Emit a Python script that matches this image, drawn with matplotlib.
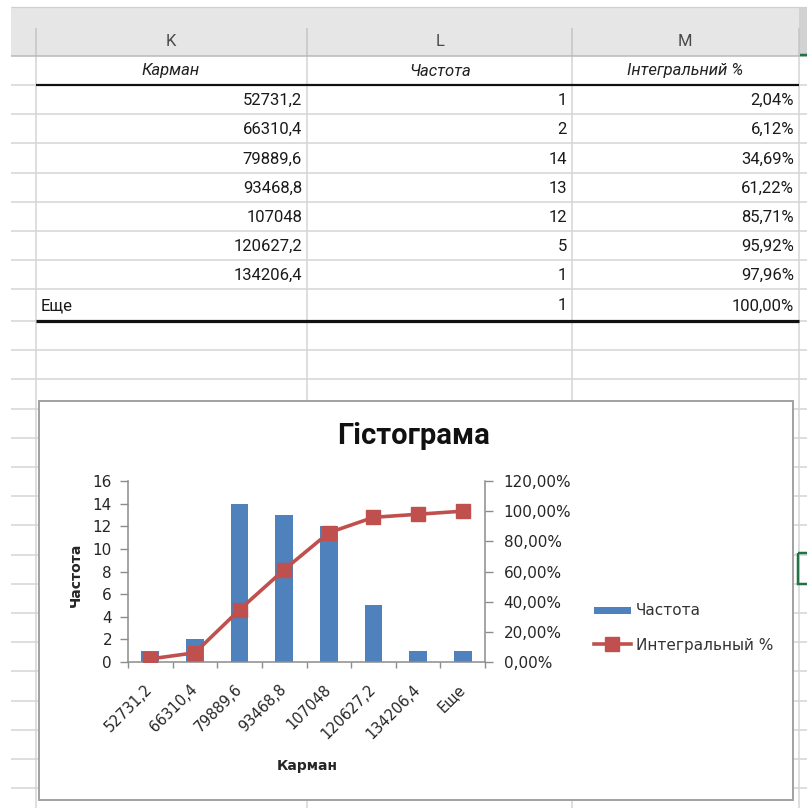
import numpy as np
import matplotlib
matplotlib.use("Agg")
import matplotlib.pyplot as plt
from matplotlib.patches import Rectangle
from matplotlib.lines import Line2D
from matplotlib.legend_handler import HandlerPatch

# ---------------- data ----------------
col_letters = ["K", "L", "M"]
col_headers = ["Карман", "Частота", "Інтегральний %"]
bins = ["52731,2", "66310,4", "79889,6", "93468,8", "107048", "120627,2", "134206,4", "Еще"]
freq = [1, 2, 14, 13, 12, 5, 1, 1]
cum_pct = [2.04, 6.12, 34.69, 61.22, 85.71, 95.92, 97.96, 100.00]
chart_title = "Гістограма"
y_label = "Частота"
x_label = "Карман"
series_names = ["Частота", "Интегральный %"]
left_ticks = [0, 2, 4, 6, 8, 10, 12, 14, 16]
right_ticks = [0, 20, 40, 60, 80, 100, 120]


def pct(v):
    return f"{v:.2f}%".replace(".", ",")


W, H = 807, 808
fig = plt.figure(figsize=(W / 100, H / 100), dpi=100)
fig.patch.set_facecolor("white")

TABLE_FONT = ["Roboto", "DejaVu Sans"]
CHART_FONT = ["DejaVu Sans"]

# ---------------- spreadsheet background (pixel coordinates) ----------------
bg = fig.add_axes([0, 0, 1, 1], zorder=0)
bg.set_xlim(0, W)
bg.set_ylim(H, 0)
bg.axis("off")

PX = 0.72  # 1 px in points
grid_c = "#d6d6d6"
col_x = [36, 307, 572, 799]

# header band
bg.add_patch(Rectangle((11, 7), 788, 49, facecolor="#e6e6e6", edgecolor="none", zorder=1))
bg.add_patch(Rectangle((799, 7), 10, 49, facecolor="#d2d2d2", edgecolor="none", zorder=1))
bg.hlines(6.5, 11, W, colors="#cfcfcf", lw=1.2 * PX, zorder=2)
bg.hlines(56, 11, W, colors="#b8b8b8", lw=1.5 * PX, zorder=3)
bg.hlines(55, 800, W, colors="#217346", lw=2.5 * PX, zorder=4)
bg.vlines(col_x, 28, 56, colors="#c4c4c4", lw=1.5 * PX, zorder=2)

# row grid lines
row_lines = [85, 114.2, 143.4, 172.6, 201.8, 231, 260.2, 289.4, 320.5]
row_lines += [350.2 + 29.2 * k for k in range(16)]
bg.hlines(row_lines, 11, W, colors=grid_c, lw=1.6 * PX, zorder=1)
bg.vlines(col_x, 56, H, colors=grid_c, lw=1.6 * PX, zorder=1)

# thick table borders
bg.hlines(85, 36, 799, colors="#111111", lw=2.2 * PX, zorder=3)
bg.hlines(320.5, 36, 799, colors="#111111", lw=3.2 * PX, zorder=3)

# column letters
for cx, letter in zip([171, 440, 685], col_letters):
    bg.text(cx, 41, letter, ha="center", va="center", fontsize=12,
            color="#4a4a4a", family=TABLE_FONT, zorder=5)

# header labels (italic)
for cx, lab in zip([171, 440, 685], col_headers):
    bg.text(cx, 71, lab, ha="center", va="center", fontsize=12, style="italic",
            color="#222222", family=TABLE_FONT, zorder=5)

# table rows
row_centers = [(row_lines[i] + row_lines[i + 1]) / 2 for i in range(8)]
for i, yc in enumerate(row_centers):
    if bins[i] == "Еще":
        bg.text(41, yc + 1, bins[i], ha="left", va="center", fontsize=12,
                color="#1a1a1a", family=TABLE_FONT, zorder=5)
    else:
        bg.text(302, yc + 1, bins[i], ha="right", va="center", fontsize=12,
                color="#1a1a1a", family=TABLE_FONT, zorder=5)
    bg.text(567, yc + 1, str(freq[i]), ha="right", va="center", fontsize=12,
            color="#1a1a1a", family=TABLE_FONT, zorder=5)
    bg.text(794, yc + 1, pct(cum_pct[i]), ha="right", va="center", fontsize=12,
            color="#1a1a1a", family=TABLE_FONT, zorder=5)

# selected cell (green)
bg.add_patch(Rectangle((798, 553), 20, 31, facecolor="none", edgecolor="#217346",
                       lw=2.5 * PX, zorder=4))

# chart box
bg.add_patch(Rectangle((38.5, 400.5), 754.5, 399, facecolor="white",
                       edgecolor="#a3a3a3", lw=2 * PX, zorder=6))

# chart texts
bg.text(414, 436, chart_title, ha="center", va="center", fontsize=21,
        fontweight="bold", family=["Roboto", "DejaVu Sans"], color="#111111", zorder=7)
bg.text(76, 575, y_label, ha="center", va="center", rotation=90, fontsize=10,
        fontweight="bold", family=CHART_FONT, color="#262626", zorder=7)
bg.text(307, 766, x_label, ha="center", va="center", fontsize=10,
        fontweight="bold", family=CHART_FONT, color="#262626", zorder=7)

# ---------------- chart axes ----------------
L, R, T, B = 128, 485, 481, 662
ax = fig.add_axes([L / W, 1 - B / H, (R - L) / W, (B - T) / H], zorder=2)
ax.patch.set_alpha(0)
x = np.arange(len(bins))
bar_color = "#4f81bd"
line_color = "#c0504d"
axis_c = "#8c8c8c"

bars = ax.bar(x, freq, width=0.4, color=bar_color, zorder=2)
ax.set_xlim(-0.5, len(bins) - 0.5)
ax.set_ylim(0, 16)
ax.set_yticks(left_ticks)
ax.set_yticklabels([str(v) for v in left_ticks], family=CHART_FONT, fontsize=11, color="#262626")
ax.set_xticks(np.arange(-0.5, len(bins), 1.0))
ax.set_xticklabels([])
ax.set_xticks(x, minor=True)
ax.set_xticklabels(bins, minor=True, rotation=45, ha="right", va="center",
                   rotation_mode="anchor", family=CHART_FONT, fontsize=10.5, color="#262626")
ax.tick_params(axis="x", which="major", length=4, width=1, color=axis_c, direction="out")
ax.tick_params(axis="x", which="minor", length=0, pad=18)
ax.tick_params(axis="y", length=5.5, width=1, color=axis_c, direction="out", pad=6)
for s in ["top", "right"]:
    ax.spines[s].set_visible(False)
for s in ["left", "bottom"]:
    ax.spines[s].set_color(axis_c)
    ax.spines[s].set_linewidth(1.1)

ax2 = ax.twinx()
line, = ax2.plot(x, cum_pct, color=line_color, lw=2.6, marker="s", ms=9.4,
                 mfc=line_color, mec=line_color, zorder=3)
ax2.set_ylim(0, 120)
ax2.set_yticks(right_ticks)
ax2.set_yticklabels([pct(v) for v in right_ticks], family=CHART_FONT, fontsize=11, color="#262626")
ax2.tick_params(axis="y", length=5.5, width=1, color=axis_c, direction="out", pad=8)
for s in ["top", "left", "bottom"]:
    ax2.spines[s].set_visible(False)
ax2.spines["right"].set_color(axis_c)
ax2.spines["right"].set_linewidth(1.1)


# ---------------- legend ----------------
def thin_patch(legend, orig_handle, xdescent, ydescent, width, height, fontsize):
    return Rectangle((-xdescent, -ydescent + height * 0.18), width, height * 0.64)


h_bar = Rectangle((0, 0), 1, 1, facecolor=bar_color, edgecolor="none")
h_line = Line2D([], [], color=line_color, lw=2.6, marker="s", ms=9.4,
                mfc=line_color, mec=line_color)
leg = bg.legend([h_bar, h_line], series_names, loc="center left",
                bbox_to_anchor=(586, 628), bbox_transform=bg.transData,
                frameon=False, prop={"family": CHART_FONT, "size": 11},
                handlelength=2.45, handletextpad=0.3, labelspacing=1.25,
                borderpad=0, handler_map={Rectangle: HandlerPatch(patch_func=thin_patch)})
for t in leg.get_texts():
    t.set_color("#333333")
leg.set_zorder(8)

fig.savefig("out.png", dpi=100, facecolor="white")
